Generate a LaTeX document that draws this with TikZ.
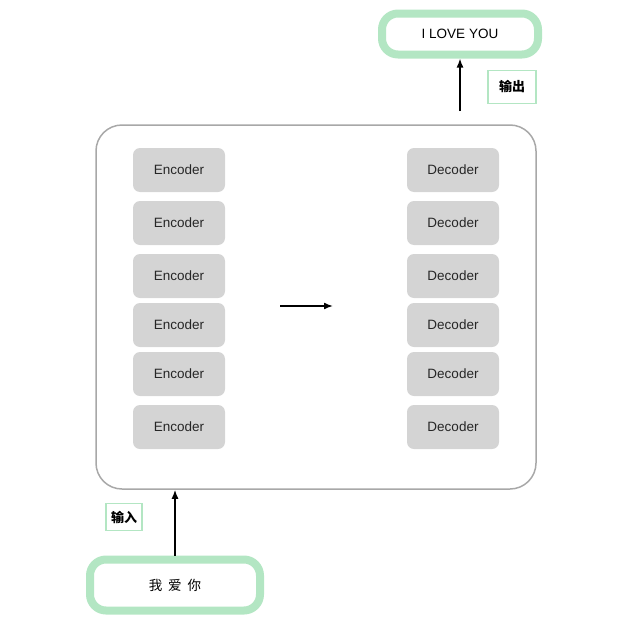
\documentclass[tikz,border=0pt]{standalone}
\usepackage{fontspec}
\usetikzlibrary{arrows.meta}
\setmainfont{Liberation Sans}
\newfontfamily\cjk{Noto Sans CJK SC}
\definecolor{boxgray}{HTML}{D4D4D4}
\definecolor{framegray}{HTML}{A8A8A8}
\definecolor{mint}{HTML}{B3E6C3}
\begin{document}
\begin{tikzpicture}[x=1pt,y=-1pt,
  codebox/.style={draw=none,fill=boxgray,rounded corners=7pt,minimum width=92pt,minimum height=44pt,font=\fontsize{13.5}{15}\selectfont,text=black!85},
  bigbox/.style={draw=mint,line width=8pt,rounded corners=16pt,fill=white},
  tagbox/.style={draw=mint,line width=1.2pt,fill=white,font=\cjk\bfseries\fontsize{13}{15}\selectfont,inner sep=0pt},
  arr/.style={-{Latex[length=9pt,width=7pt]},line width=1.6pt,black}]
\useasboundingbox (0,0) rectangle (625,637);
\node[draw=framegray,line width=1.5pt,rounded corners=26pt,minimum width=440pt,minimum height=364pt] (frame) at (316,307) {};
\foreach \i/\y in {1/170,2/223,3/276,4/325,5/374,6/427}{
  \node[codebox] (e\i) at (179,\y) {Encoder};
  \node[codebox] (d\i) at (453,\y) {Decoder};
}
\coordinate (ma) at (280,306);
\coordinate (mb) at (333,306);
\draw[arr] (ma) -- (mb);
\node[bigbox,minimum width=156pt,minimum height=41pt,font=\fontsize{13.5}{15}\selectfont] (out) at (460,34) {I LOVE YOU};
\coordinate (os) at (460,111);
\draw[arr] (os) -- (os |- out.south);
\node[tagbox,minimum width=48pt,minimum height=33pt] (otag) at (512,87) {输出};
\node[bigbox,minimum width=170pt,minimum height=51pt,font=\cjk\fontsize{13.5}{15}\selectfont] (in) at (175,585) {我\hspace{6pt}爱\hspace{6pt}你};
\draw[arr] (in.north) -- (frame.south -| in.north);
\node[tagbox,minimum width=36pt,minimum height=27pt] (itag) at (124,517) {输入};
\end{tikzpicture}
\end{document}
